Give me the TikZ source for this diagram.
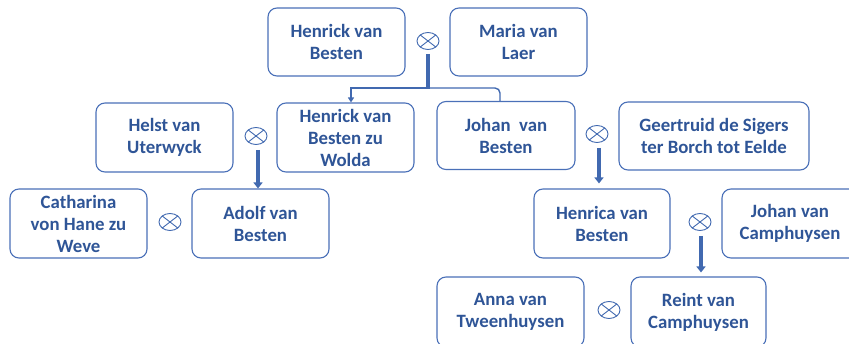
\documentclass[tikz,border=0pt]{standalone}
\usepackage{fontspec}
\setmainfont{Carlito}
\usetikzlibrary{shapes.geometric,arrows.meta}
\definecolor{txt}{HTML}{2F5597}
\definecolor{bord}{HTML}{4A70B8}
\definecolor{arr}{HTML}{4169B0}
\tikzset{
 person/.style={draw=bord, line width=1.1pt, rounded corners=9pt, align=center, text=txt,
   font=\fontsize{18.8}{22}\selectfont\bfseries, minimum height=68pt, inner sep=0pt, fill=white},
 marriage/.style={draw=arr, ellipse, line width=0.9pt, minimum width=22pt, minimum height=17pt, inner sep=0pt,
   path picture={\draw[arr,line width=0.9pt] (path picture bounding box.north west)--(path picture bounding box.south east)
     (path picture bounding box.north east)--(path picture bounding box.south west);}},
 descent/.style={draw=arr, line width=3.5pt, -{Triangle[length=6pt,width=9pt]}},
}
\begin{document}
\begin{tikzpicture}[x=1pt,y=-1pt]
\useasboundingbox (0,0) rectangle (849,344);
\node[person, minimum width=137pt] (hvb) at (336.5,42) {Henrick van\\Besten};
\node[person, minimum width=137pt] (mvl) at (518.5,42) {Maria van\\Laer};
\node[person, minimum width=137pt, minimum height=69pt] (hbw) at (345.5,137.5) {Henrick van\\Besten zu\\Wolda};
\node[person, minimum width=138pt] (jvb) at (506,135.5) {Johan\ \ van\\Besten};
\node[person, minimum width=137pt, minimum height=69pt] (hvu) at (164.5,137.5) {Helst van\\Uterwyck};
\node[person, minimum width=190pt] (gds) at (714,136) {Geertruid de Sigers\\ter Borch tot Eelde};
\node[person, minimum width=137pt, minimum height=69pt] (cat) at (78.5,223.5) {Catharina\\von Hane zu\\Weve};
\node[person, minimum width=137pt, minimum height=69pt] (avb) at (260.5,223.5) {Adolf van\\Besten};
\node[person, minimum width=136pt, minimum height=69pt] (hen) at (602,223.5) {Henrica van\\Besten};
\node[person, minimum width=136pt, minimum height=69pt] (jvc) at (790,223.5) {Johan van\\Camphuysen};
\node[person, minimum width=147pt, minimum height=70pt] (anna) at (510.5,312) {Anna van\\Tweenhuysen};
\node[person, minimum width=135pt, minimum height=70pt] (reint) at (698.5,312) {Reint van\\Camphuysen};

\node[marriage] (m1) at (428,41) {};
\node[marriage] (m2) at (256,136) {};
\node[marriage] (m3) at (170,222) {};
\node[marriage] (m4) at (597,134) {};
\node[marriage] (m5) at (700,222) {};
\node[marriage] (m6) at (609,310) {};

\coordinate (j1) at (428,88);
\draw[arr, line width=3.5pt] ([yshift=-4pt]m1.south) -- ([yshift=-1pt]j1);
\draw[arr, line width=2pt, -{Triangle[length=5pt,width=6pt]}] (j1) -| ([xshift=5.5pt]hbw.north);
\draw[arr, line width=1.4pt, rounded corners=5pt] (j1) -| ([xshift=-6pt]jvb.north);

\draw[descent] ([xshift=2pt,yshift=-5pt]m2.south) -- ([xshift=2pt]m2.south |- avb.north);
\draw[descent, shorten >=5pt] ([xshift=2pt,yshift=-5pt]m4.south) -- ([xshift=2pt]m4.south |- hen.north);
\draw[descent, shorten >=4pt] ([xshift=1pt,yshift=-5pt]m5.south) -- ([xshift=1pt]m5.south |- reint.north);
\end{tikzpicture}
\end{document}
